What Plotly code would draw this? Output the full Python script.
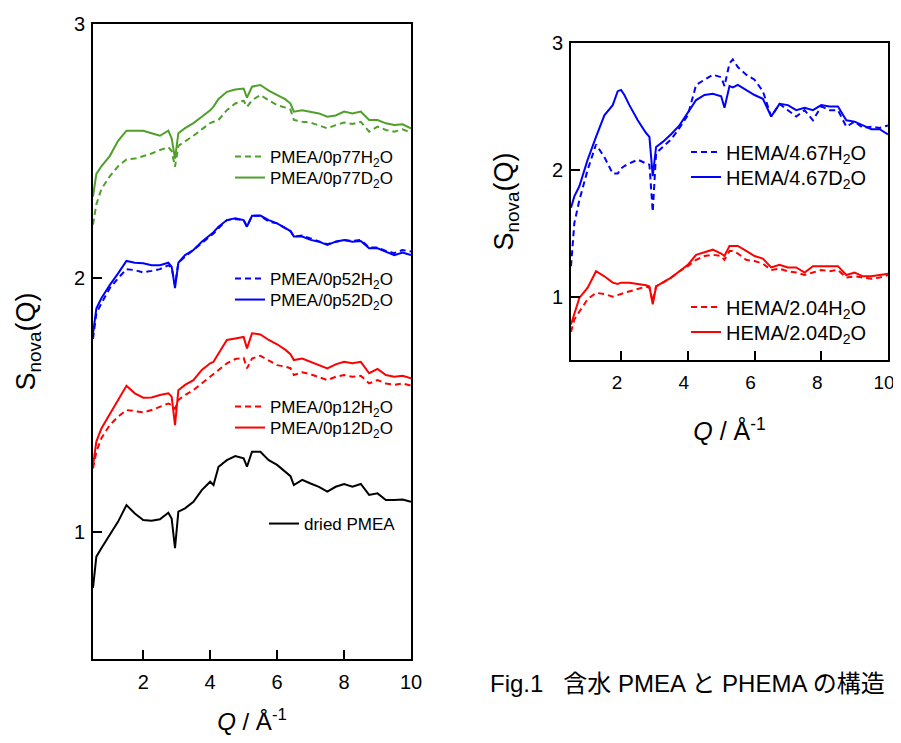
import plotly.graph_objects as go

# ---------------- data ----------------
Q_LEFT = [0.5, 0.6, 0.75, 1.0, 1.25, 1.5, 1.75, 2.0, 2.25, 2.5,
          2.75, 2.85, 2.95, 3.05, 3.25, 3.5, 3.75, 4.0, 4.1, 4.25,
          4.5, 4.75, 5.0, 5.1, 5.25, 5.5, 5.75, 6.0, 6.25, 6.4,
          6.5, 6.75, 7.0, 7.25, 7.5, 7.75, 8.0, 8.25, 8.5, 8.75,
          9.0, 9.25, 9.5, 9.75, 10.0]

PMEA_077_D2O = [2.32, 2.41, 2.44, 2.48, 2.54, 2.58, 2.58, 2.58, 2.57, 2.56,
                2.58, 2.55, 2.47, 2.57, 2.59, 2.61, 2.635, 2.66, 2.675, 2.705,
                2.733, 2.742, 2.746, 2.71, 2.753, 2.76, 2.738, 2.72, 2.703, 2.687,
                2.655, 2.66, 2.655, 2.648, 2.635, 2.64, 2.655, 2.648, 2.655, 2.622,
                2.622, 2.609, 2.602, 2.605, 2.589]
PMEA_077_H2O = [2.21, 2.29, 2.35, 2.40, 2.44, 2.467, 2.47, 2.48, 2.49, 2.504,
                2.515, 2.50, 2.438, 2.52, 2.537, 2.56, 2.585, 2.61, 2.615, 2.622,
                2.661, 2.687, 2.698, 2.674, 2.70, 2.72, 2.70, 2.681, 2.671, 2.663,
                2.622, 2.615, 2.612, 2.602, 2.589, 2.602, 2.612, 2.606, 2.615, 2.576,
                2.596, 2.583, 2.576, 2.585, 2.572]
PMEA_052_D2O = [1.78, 1.88, 1.92, 1.972, 2.018, 2.067, 2.06, 2.058, 2.05, 2.05,
                2.06, 2.045, 1.96, 2.06, 2.09, 2.11, 2.143, 2.169, 2.18, 2.202,
                2.228, 2.235, 2.228, 2.202, 2.245, 2.246, 2.228, 2.215, 2.196, 2.185,
                2.163, 2.163, 2.15, 2.143, 2.13, 2.143, 2.15, 2.143, 2.146, 2.117,
                2.117, 2.104, 2.09, 2.10, 2.09]
PMEA_052_H2O = [1.76, 1.861, 1.90, 1.96, 1.999, 2.035, 2.031, 2.022, 2.028, 2.035,
                2.05, 2.04, 1.972, 2.06, 2.084, 2.11, 2.137, 2.163, 2.175, 2.196,
                2.228, 2.232, 2.228, 2.202, 2.245, 2.245, 2.222, 2.215, 2.196, 2.185,
                2.163, 2.167, 2.156, 2.146, 2.133, 2.143, 2.15, 2.146, 2.15, 2.12,
                2.12, 2.107, 2.098, 2.11, 2.104]
PMEA_012_D2O = [1.26, 1.356, 1.408, 1.467, 1.52, 1.576, 1.546, 1.529, 1.53, 1.539,
                1.546, 1.533, 1.421, 1.558, 1.579, 1.598, 1.638, 1.664, 1.67, 1.703,
                1.756, 1.762, 1.768, 1.723, 1.782, 1.778, 1.756, 1.739, 1.717, 1.70,
                1.677, 1.683, 1.67, 1.657, 1.644, 1.66, 1.67, 1.664, 1.67, 1.625,
                1.642, 1.618, 1.611, 1.615, 1.605]
PMEA_012_H2O = [1.25, 1.316, 1.369, 1.421, 1.454, 1.48, 1.476, 1.471, 1.48, 1.493,
                1.506, 1.50, 1.485, 1.52, 1.539, 1.559, 1.585, 1.611, 1.62, 1.638,
                1.664, 1.681, 1.686, 1.644, 1.683, 1.694, 1.677, 1.657, 1.651, 1.645,
                1.618, 1.629, 1.621, 1.611, 1.598, 1.611, 1.618, 1.611, 1.615, 1.585,
                1.598, 1.585, 1.579, 1.585, 1.576]
PMEA_DRIED = [0.78, 0.903, 0.936, 0.988, 1.041, 1.106, 1.073, 1.047, 1.044, 1.05,
              1.076, 1.053, 0.936, 1.08, 1.093, 1.119, 1.165, 1.198, 1.185, 1.257,
              1.283, 1.299, 1.29, 1.257, 1.316, 1.316, 1.283, 1.264, 1.237, 1.22,
              1.185, 1.205, 1.191, 1.178, 1.159, 1.178, 1.189, 1.178, 1.189, 1.146,
              1.152, 1.126, 1.126, 1.128, 1.119]

Q_RIGHT = [0.5, 0.6, 0.75, 1.0, 1.25, 1.5, 1.75, 1.9, 2.0, 2.1,
           2.25, 2.5, 2.75, 2.85, 2.95, 3.05, 3.25, 3.5, 3.75, 4.0,
           4.25, 4.5, 4.75, 5.0, 5.1, 5.25, 5.35, 5.5, 5.75, 6.0,
           6.25, 6.5, 6.75, 7.0, 7.25, 7.5, 7.75, 8.0, 8.25, 8.5,
           8.75, 9.0, 9.25, 9.5, 9.75, 10.0]

HEMA_467_D2O = [1.70, 1.79, 1.87, 2.08, 2.26, 2.43, 2.51, 2.62, 2.63, 2.59,
                2.51, 2.39, 2.29, 2.26, 1.95, 2.18, 2.22, 2.28, 2.35, 2.45,
                2.55, 2.59, 2.60, 2.58, 2.49, 2.66, 2.65, 2.67, 2.63, 2.59,
                2.56, 2.42, 2.52, 2.51, 2.47, 2.49, 2.47, 2.51, 2.50, 2.50,
                2.39, 2.38, 2.35, 2.32, 2.32, 2.28]
HEMA_467_H2O = [1.24, 1.58, 1.76, 2.00, 2.20, 2.10, 1.97, 1.97, 2.01, 2.03,
                2.05, 2.08, 2.05, 2.04, 1.67, 2.13, 2.18, 2.24, 2.33, 2.43,
                2.67, 2.71, 2.75, 2.73, 2.66, 2.84, 2.87, 2.81, 2.75, 2.71,
                2.62, 2.42, 2.52, 2.47, 2.42, 2.47, 2.39, 2.50, 2.47, 2.47,
                2.34, 2.38, 2.33, 2.34, 2.33, 2.35]
HEMA_204_D2O = [0.78, 0.86, 0.99, 1.07, 1.20, 1.16, 1.11, 1.10, 1.11, 1.11,
                1.11, 1.10, 1.09, 1.08, 0.94, 1.08, 1.11, 1.15, 1.20, 1.25,
                1.33, 1.35, 1.37, 1.34, 1.32, 1.40, 1.40, 1.40, 1.36, 1.32,
                1.30, 1.23, 1.25, 1.23, 1.23, 1.19, 1.24, 1.24, 1.24, 1.24,
                1.17, 1.19, 1.16, 1.16, 1.17, 1.18]
HEMA_204_H2O = [0.72, 0.82, 0.88, 0.98, 1.03, 1.02, 1.00, 1.01, 1.02, 1.03,
                1.04, 1.06, 1.08, 1.07, 0.96, 1.08, 1.11, 1.15, 1.20, 1.24,
                1.29, 1.32, 1.33, 1.32, 1.29, 1.36, 1.36, 1.34, 1.29, 1.28,
                1.26, 1.21, 1.22, 1.20, 1.19, 1.17, 1.19, 1.21, 1.20, 1.21,
                1.15, 1.16, 1.15, 1.14, 1.15, 1.17]

X_TICKS = [2, 4, 6, 8, 10]
Y_TICKS = [1, 2, 3]

# ---------------- styling ----------------
GREEN = "#4f9f2a"
BLUE = "#0000ff"
RED = "#ff0000"
BLACK = "#000000"
FONT = "Liberation Sans, Arial, sans-serif"
DASH = "6px,4px"
LW = 2

# the page body has an 8px margin, so the figure is drawn 8px in from the corner
OFF = 8
W, H = 901 - OFF, 743 - 2 * OFF
def px(v): return (v - OFF) / W
def py(v): return (H - (v - OFF)) / H

fig = go.Figure()

def add(x, y, name, color, dash, xa, ya, legend):
    fig.add_trace(go.Scatter(
        x=x, y=y, name=name, mode="lines",
        line=dict(color=color, width=LW, dash=dash),
        xaxis=xa, yaxis=ya, legend=legend))

LEG = {}
def legend_at(key, xs, yc, size):
    LEG[key] = dict(x=px(xs - 6), y=py(yc), xanchor="left", yanchor="middle",
                    xref="paper", yref="paper", bgcolor="rgba(0,0,0,0)", borderwidth=0,
                    font=dict(family=FONT, size=size, color="black"), itemwidth=30,
                    visible=True)

# left panel
add(Q_LEFT, PMEA_077_H2O, "PMEA/0p77H<sub>2</sub>O", GREEN, DASH, "x", "y", "legend")
add(Q_LEFT, PMEA_077_D2O, "PMEA/0p77D<sub>2</sub>O", GREEN, "solid", "x", "y", "legend2")
add(Q_LEFT, PMEA_052_H2O, "PMEA/0p52H<sub>2</sub>O", BLUE, DASH, "x", "y", "legend3")
add(Q_LEFT, PMEA_052_D2O, "PMEA/0p52D<sub>2</sub>O", BLUE, "solid", "x", "y", "legend4")
add(Q_LEFT, PMEA_012_H2O, "PMEA/0p12H<sub>2</sub>O", RED, DASH, "x", "y", "legend5")
add(Q_LEFT, PMEA_012_D2O, "PMEA/0p12D<sub>2</sub>O", RED, "solid", "x", "y", "legend6")
add(Q_LEFT, PMEA_DRIED, "dried PMEA", BLACK, "solid", "x", "y", "legend7")
# right panel
add(Q_RIGHT, HEMA_467_H2O, "HEMA/4.67H<sub>2</sub>O", BLUE, DASH, "x2", "y2", "legend8")
add(Q_RIGHT, HEMA_467_D2O, "HEMA/4.67D<sub>2</sub>O", BLUE, "solid", "x2", "y2", "legend9")
add(Q_RIGHT, HEMA_204_H2O, "HEMA/2.04H<sub>2</sub>O", RED, DASH, "x2", "y2", "legend10")
add(Q_RIGHT, HEMA_204_D2O, "HEMA/2.04D<sub>2</sub>O", RED, "solid", "x2", "y2", "legend11")

legend_at("legend", 236, 157, 17)
legend_at("legend2", 236, 178, 17)
legend_at("legend3", 236, 279, 17)
legend_at("legend4", 236, 300, 17)
legend_at("legend5", 236, 407, 17)
legend_at("legend6", 236, 428, 17)
legend_at("legend7", 270, 524, 17)
legend_at("legend8", 692, 152, 20)
legend_at("legend9", 692, 177, 20)
legend_at("legend10", 692, 307, 20)
legend_at("legend11", 692, 332, 20)

axis_common = dict(
    showline=True, linewidth=2, linecolor="black", mirror=True,
    ticks="inside", ticklen=9, tickwidth=1.5, tickcolor="black",
    showgrid=False, zeroline=False, automargin=False,
    tickfont=dict(family=FONT, size=20, color="black"),
)

def xtitle(standoff, size):
    return dict(text="<i>Q</i> / Å<sup>-1</sup>", font=dict(family=FONT, size=size, color="black"),
                standoff=standoff)
yt = dict(text="S<sub>nova</sub>(Q)", font=dict(family=FONT, size=27, color="black"), standoff=30)

fig.update_layout(
    width=W, height=H,
    margin=dict(l=0, r=0, t=0, b=0, autoexpand=False),
    paper_bgcolor="white", plot_bgcolor="white",
    font=dict(family=FONT, color="black"),
    showlegend=True,
    xaxis=dict(domain=[px(93), px(411)], range=[0.5, 10], tickvals=X_TICKS,
               ticklabelstandoff=4, title=xtitle(31, 24), anchor="y", **axis_common),
    yaxis=dict(domain=[py(659), py(24)], range=[0.5, 3], tickvals=Y_TICKS,
               ticklabelstandoff=2, title=yt, anchor="x", **axis_common),
    xaxis2=dict(domain=[px(571), px(888)], range=[0.5, 10], tickvals=X_TICKS,
                ticklabelstandoff=4, ticklabelshift=-4, title=xtitle(31, 25), anchor="y2",
                **{**axis_common, "tickfont": dict(family=FONT, size=19, color="black")}),
    yaxis2=dict(domain=[py(360), py(43)], range=[0.5, 3], tickvals=Y_TICKS,
                ticklabelstandoff=2, title=yt, anchor="x2", **axis_common),
    **LEG,
)

fig.add_annotation(
    text="Fig.1\u00a0\u00a0\u00a0含水 PMEA と PHEMA の構造",
    xref="paper", yref="paper", x=px(488), y=py(683), xanchor="left", yanchor="middle",
    showarrow=False, font=dict(family="Liberation Sans, Noto Sans CJK JP, sans-serif", size=24, color="black"))

fig.write_html("out.html")
